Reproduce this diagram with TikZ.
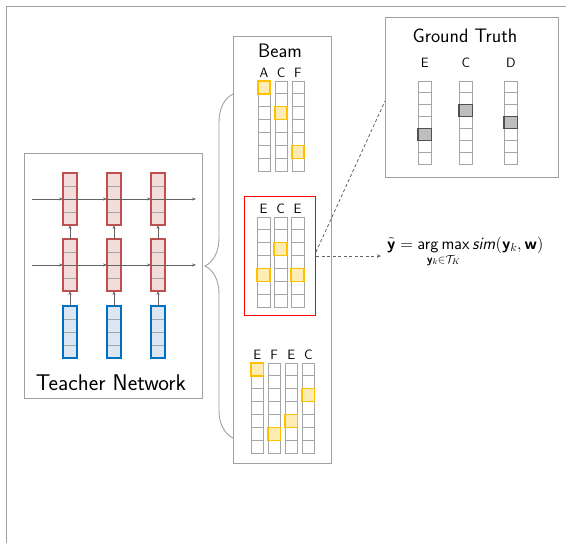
\documentclass[tikz,border=0pt]{standalone}
\usepackage{fix-cm}
\usepackage{amsmath}
\usetikzlibrary{arrows.meta,decorations.pathreplacing}
\renewcommand\familydefault{\sfdefault}
\DeclareMathAlphabet{\mathsfbf}{OT1}{cmss}{bx}{n}
\DeclareMathAlphabet{\mathsfit}{OT1}{cmss}{m}{sl}
\definecolor{redB}{RGB}{192,80,77}
\definecolor{redF}{RGB}{242,220,220}
\definecolor{blueB}{RGB}{0,112,192}
\definecolor{blueF}{RGB}{220,230,242}
\definecolor{yelB}{RGB}{255,192,0}
\definecolor{yelF}{RGB}{255,236,179}
\definecolor{gline}{RGB}{165,165,165}
\definecolor{gtF}{RGB}{190,190,190}
\definecolor{gtB}{RGB}{80,80,80}
\definecolor{frameC}{RGB}{160,160,160}
\definecolor{arrC}{RGB}{100,100,100}
\tikzset{
  colbox/.style={draw=gline, line width=0.9pt, inner sep=0pt, outer sep=0pt},
  cellline/.style={draw=gline, line width=0.9pt},
  hl/.style={draw=yelB, fill=yelF, line width=1.3pt, inner sep=0pt, outer sep=0pt},
  gthl/.style={draw=gtB, fill=gtF, line width=1.3pt, inner sep=0pt, outer sep=0pt},
  lab/.style={font=\fontsize{13.5}{14}\selectfont, inner sep=0pt},
  panel/.style={draw=frameC, line width=0.9pt, inner sep=0pt, outer sep=0pt},
  redcell/.style={draw=redB, fill=redF, line width=1.2pt, inner sep=0pt, outer sep=0pt, minimum width=14pt, minimum height=52pt, anchor=north west},
  bluecell/.style={draw=blueB, fill=blueF, line width=1.2pt, inner sep=0pt, outer sep=0pt, minimum width=14pt, minimum height=52pt, anchor=north west},
  sub/.style={draw=gline, line width=0.9pt},
  tarr/.style={draw=arrC, line width=0.7pt, -{Stealth[length=4pt,width=3pt]}},
  dline/.style={draw=arrC, line width=0.8pt, dashed, dash pattern=on 3pt off 2.5pt},
}
% #1 name, #2 x, #3 y top, #4 width, #5 cell height, #6 highlight row, #7 label, #8 label y, #9 highlight style
\newcommand\bcol[9]{%
  \node[colbox, minimum width=#4pt, minimum height=7*#5pt, anchor=north west] (#1) at (#2,#3) {};
  \foreach \i in {1,...,6} \draw[cellline] (#2,#3+\i*#5) -- ++(#4,0);
  \node[#9, minimum width=#4pt, minimum height=#5pt, anchor=north west] (#1h) at (#2,#3+#6*#5) {};
  \node[lab] (#1l) at (#2+#4/2,#8) {#7};
}
\newcommand\tcell[4]{% #1 name, #2 x, #3 y, #4 style
  \node[#4] (#1) at (#2,#3) {};
  \foreach \i in {1,2,3} \draw[sub] (#2,#3+\i*13) -- ++(14,0);
  \node[#4, fill=none] at (#2,#3) {};
}
\begin{document}
\begin{tikzpicture}[x=1pt,y=-1pt]
\useasboundingbox (0,0) rectangle (566,543);
% outer frame
\coordinate (fTL) at (6,6);
\draw[draw=frameC, line width=0.9pt] (566,6) -- (fTL) -- (6,543);

% teacher network
\node[panel, minimum width=178pt, minimum height=245pt, anchor=north west] (teacher) at (24,153) {};
\foreach \c/\x in {1/63,2/107,3/151}{
  \tcell{ra\c}{\x}{173}{redcell}
  \tcell{rb\c}{\x}{239}{redcell}
  \tcell{bl\c}{\x}{306}{bluecell}
}
\coordinate (h1s) at (32,199);
\coordinate (h1e) at (196,199);
\coordinate (h2s) at (32,265);
\coordinate (h2e) at (196,265);
\draw[tarr] (h1s) -- (ra1.west);
\draw[tarr] (ra1.west) -- (ra2.west);
\draw[tarr] (ra2.west) -- (ra3.west);
\draw[tarr] (ra3.west) -- (h1e);
\draw[tarr] (h2s) -- (rb1.west);
\draw[tarr] (rb1.west) -- (rb2.west);
\draw[tarr] (rb2.west) -- (rb3.west);
\draw[tarr] (rb3.west) -- (h2e);
\foreach \c in {1,2,3}{
  \draw[tarr] (bl\c.north) -- (rb\c.south);
  \draw[tarr] (rb\c.north) -- (ra\c.south);
}
\node[font=\fontsize{22.7}{25}\selectfont, inner sep=0pt] (tlabel) at (111,383) {Teacher Network};

% beam
\node[panel, minimum width=98pt, minimum height=427pt, anchor=north west] (beam) at (233,36) {};
\node[font=\fontsize{19.5}{22}\selectfont, inner sep=0pt] (beamt) at (280,51) {Beam};
\bcol{ga}{258}{81}{12}{12.86}{0}{A}{73}{hl}
\bcol{gb}{275}{81}{12}{12.86}{2}{C}{73}{hl}
\bcol{gc}{292}{81}{12}{12.86}{5}{F}{73}{hl}

\node[draw=red, line width=0.8pt, minimum width=71pt, minimum height=119pt, anchor=north west, inner sep=0pt] (sel) at (244,196) {};
\bcol{ha}{257}{217}{13}{12.86}{4}{E}{209}{hl}
\bcol{hb}{274}{217}{13}{12.86}{2}{C}{209}{hl}
\bcol{hc}{291}{217}{13}{12.86}{4}{E}{209}{hl}

\bcol{ka}{251}{363}{12.5}{12.86}{0}{E}{355}{hl}
\bcol{kb}{268}{363}{12.5}{12.86}{5}{F}{355}{hl}
\bcol{kc}{285}{363}{12.5}{12.86}{4}{E}{355}{hl}
\bcol{kd}{302}{363}{12.5}{12.86}{2}{C}{355}{hl}

% brace
\coordinate (brb) at (233,438);
\coordinate (brt) at (233,94);
\draw[draw=frameC, line width=0.9pt, decorate, decoration={brace, amplitude=28pt, aspect=0.5}] (brb) -- (brt);

% ground truth
\node[panel, minimum width=173pt, minimum height=160pt, anchor=north west] (gt) at (385,17) {};
\node[font=\fontsize{19.5}{22}\selectfont, inner sep=0pt] (gtt) at (465,36) {Ground Truth};
\bcol{ta}{418}{81}{13.5}{11.86}{4}{E}{63}{gthl}
\bcol{tb}{459}{81}{13.5}{11.86}{2}{C}{63}{gthl}
\bcol{tc}{504}{81}{13.5}{11.86}{3}{D}{63}{gthl}

% dashed connectors
\coordinate (selA) at (316,252);
\coordinate (gtA) at (385,101);
\draw[dline] (selA) -- (gtA);
\node[anchor=base west, inner sep=0pt, font=\fontsize{16.6}{19}\selectfont] (formula) at (387,249)
  {$\tilde{\mathsfbf{y}} = \mathop{\mathsf{arg\,max}}\limits_{\mathsfbf{y}_k\in\mathcal{T}_K} \mathsfit{sim}(\mathsfbf{y}_k,\mathsfbf{w})$};
\coordinate (selB) at (316,256);
\coordinate (fW) at (381,256);
\draw[dline, -{Stealth[length=4pt,width=3.5pt]}] (selB) -- (fW);
\end{tikzpicture}
\end{document}
